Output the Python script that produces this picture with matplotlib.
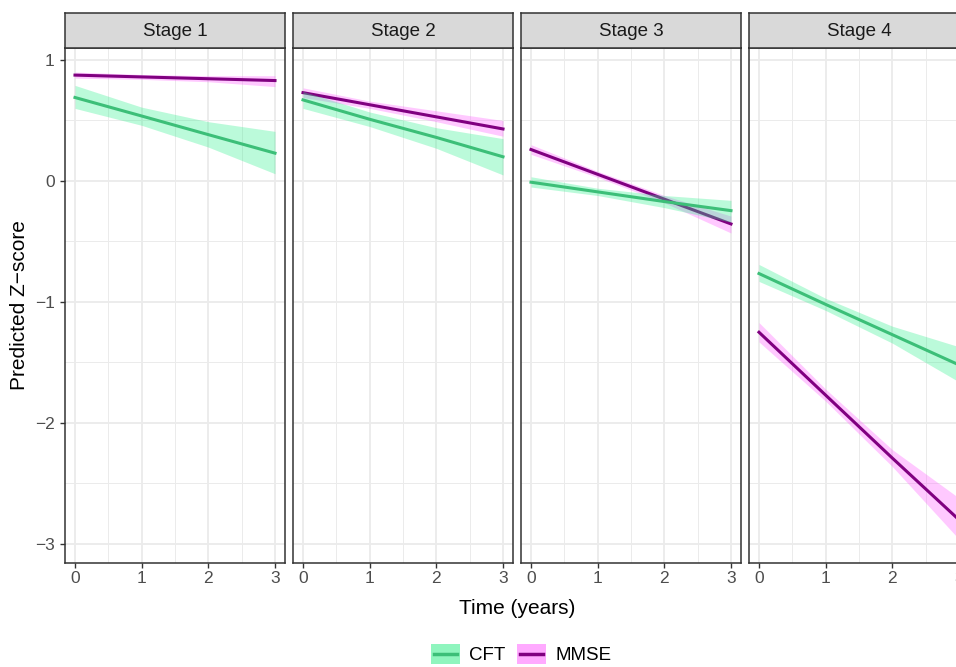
import matplotlib.pyplot as plt
from matplotlib.patches import Rectangle
from matplotlib.lines import Line2D
from matplotlib.legend_handler import HandlerBase

plt.rcParams['font.family'] = ['Liberation Sans', 'DejaVu Sans']

stages = ['Stage 1', 'Stage 2', 'Stage 3', 'Stage 4']
time = [0, 1, 2, 3]

cft_fit = [[0.69, 0.537, 0.383, 0.23],
           [0.67, 0.51, 0.36, 0.20],
           [-0.01, -0.09, -0.17, -0.245],
           [-0.765, -1.02, -1.27, -1.52]]
cft_lo = [[0.60, 0.46, 0.28, 0.06],
          [0.60, 0.45, 0.27, 0.05],
          [-0.05, -0.12, -0.22, -0.34],
          [-0.83, -1.07, -1.34, -1.66]]
cft_hi = [[0.79, 0.61, 0.49, 0.41],
          [0.74, 0.57, 0.44, 0.35],
          [0.035, -0.06, -0.12, -0.16],
          [-0.69, -0.97, -1.20, -1.37]]

mmse_fit = [[0.875, 0.86, 0.845, 0.83],
            [0.73, 0.63, 0.53, 0.43],
            [0.26, 0.055, -0.15, -0.355],
            [-1.25, -1.77, -2.29, -2.80]]
mmse_lo = [[0.85, 0.84, 0.82, 0.78],
           [0.69, 0.60, 0.49, 0.37],
           [0.22, 0.03, -0.18, -0.43],
           [-1.33, -1.82, -2.36, -2.96]]
mmse_hi = [[0.90, 0.88, 0.87, 0.87],
           [0.77, 0.66, 0.58, 0.50],
           [0.30, 0.08, -0.12, -0.29],
           [-1.17, -1.72, -2.22, -2.62]]

x_ticks = [0, 1, 2, 3]
y_ticks = [1, 0, -1, -2, -3]
y_tick_labels = ['1', '0', '\u22121', '\u22122', '\u22123']
legend_labels = ['CFT', 'MMSE']

CFT_LINE = '#3CBF78'
CFT_FILL = '#33F08F'
MMSE_LINE = '#800080'
MMSE_FILL = '#FF66FF'
BORDER = '#333333'
GRID = '#EBEBEB'

W, H = 956, 667


class KeyHandler(HandlerBase):
    # ggplot style key: filled square with a short line through the middle
    def __init__(self, fill, line):
        super().__init__()
        self.fill = fill
        self.line = line

    def create_artists(self, legend, orig_handle, xdescent, ydescent,
                       width, height, fontsize, trans):
        rect = Rectangle((-xdescent, -ydescent), width, height,
                         facecolor=self.fill, edgecolor='none', transform=trans)
        y = -ydescent + height / 2
        pad = width * 0.1
        ln = Line2D([-xdescent + pad, -xdescent + width - pad], [y, y],
                    color=self.line, linewidth=2.5, transform=trans)
        return [rect, ln]


def style_panel(ax, first):
    ax.set_xlim(-0.15, 3.15)
    ax.set_ylim(-3.157, 1.099)
    ax.set_xticks(x_ticks)
    ax.set_xticks([0.5, 1.5, 2.5], minor=True)
    ax.set_yticks(y_ticks)
    ax.set_yticks([0.5, -0.5, -1.5, -2.5], minor=True)
    ax.grid(True, which='major', color=GRID, linewidth=1.3, zorder=0)
    ax.grid(True, which='minor', color=GRID, linewidth=0.7, zorder=0)
    ax.set_axisbelow(True)
    for s in ax.spines.values():
        s.set_color(BORDER)
        s.set_linewidth(1.1)
    ax.tick_params(which='minor', length=0)
    ax.tick_params(which='major', length=3.5, width=1, color=BORDER,
                   labelcolor='#4D4D4D', labelsize=12.5, pad=2)
    if first:
        ax.set_yticklabels(y_tick_labels)
        ax.tick_params(axis='y', pad=4)
    else:
        ax.tick_params(axis='y', which='both', left=False, labelleft=False)


def draw_panel(fig, i):
    left = (65 + 228 * i) / W
    bottom = (667 - 563) / H
    ax = fig.add_axes([left, bottom, 220 / W, (563 - 48) / H])
    style_panel(ax, i == 0)

    ax.fill_between(time, mmse_lo[i], mmse_hi[i], color=MMSE_FILL, alpha=0.35,
                    linewidth=0, zorder=2)
    ax.plot(time, mmse_fit[i], color=MMSE_LINE, linewidth=2.2, zorder=3)
    ax.fill_between(time, cft_lo[i], cft_hi[i], color=CFT_FILL, alpha=0.33,
                    linewidth=0, zorder=4)
    ax.plot(time, cft_fit[i], color=CFT_LINE, linewidth=2.2, zorder=5)

    strip = fig.add_axes([left, (667 - 48) / H, 220 / W, 35 / H])
    strip.set_facecolor('#D9D9D9')
    strip.set_xticks([])
    strip.set_yticks([])
    for s in strip.spines.values():
        s.set_color(BORDER)
        s.set_linewidth(1.1)
    strip.text(0.5, 0.48, stages[i], ha='center', va='center',
               fontsize=13.5, color='#1A1A1A', transform=strip.transAxes)
    return ax


def main():
    fig = plt.figure(figsize=(W / 100, H / 100), dpi=100)
    for i in range(len(stages)):
        draw_panel(fig, i)

    fig.text(517 / W, 1 - 608 / H, 'Time (years)', ha='center', va='center',
             fontsize=15)
    fig.text(20 / W, 1 - 305 / H, 'Predicted Z\u2212score', ha='center',
             va='center', rotation=90, fontsize=15)

    h_cft = Rectangle((0, 0), 1, 1)
    h_mmse = Rectangle((0, 0), 1, 1)
    fig.legend([h_cft, h_mmse], legend_labels,
               handler_map={h_cft: KeyHandler('#8FF5BE', CFT_LINE),
                            h_mmse: KeyHandler('#FFAAFF', MMSE_LINE)},
               loc='center', bbox_to_anchor=(521 / W, 1 - 654 / H), ncol=2,
               frameon=False, fontsize=13.5, handlelength=1.55,
               handleheight=1.33, columnspacing=0.6, handletextpad=0.5,
               borderpad=0)

    plt.savefig('out.png', dpi=100)


if __name__ == '__main__':
    main()
